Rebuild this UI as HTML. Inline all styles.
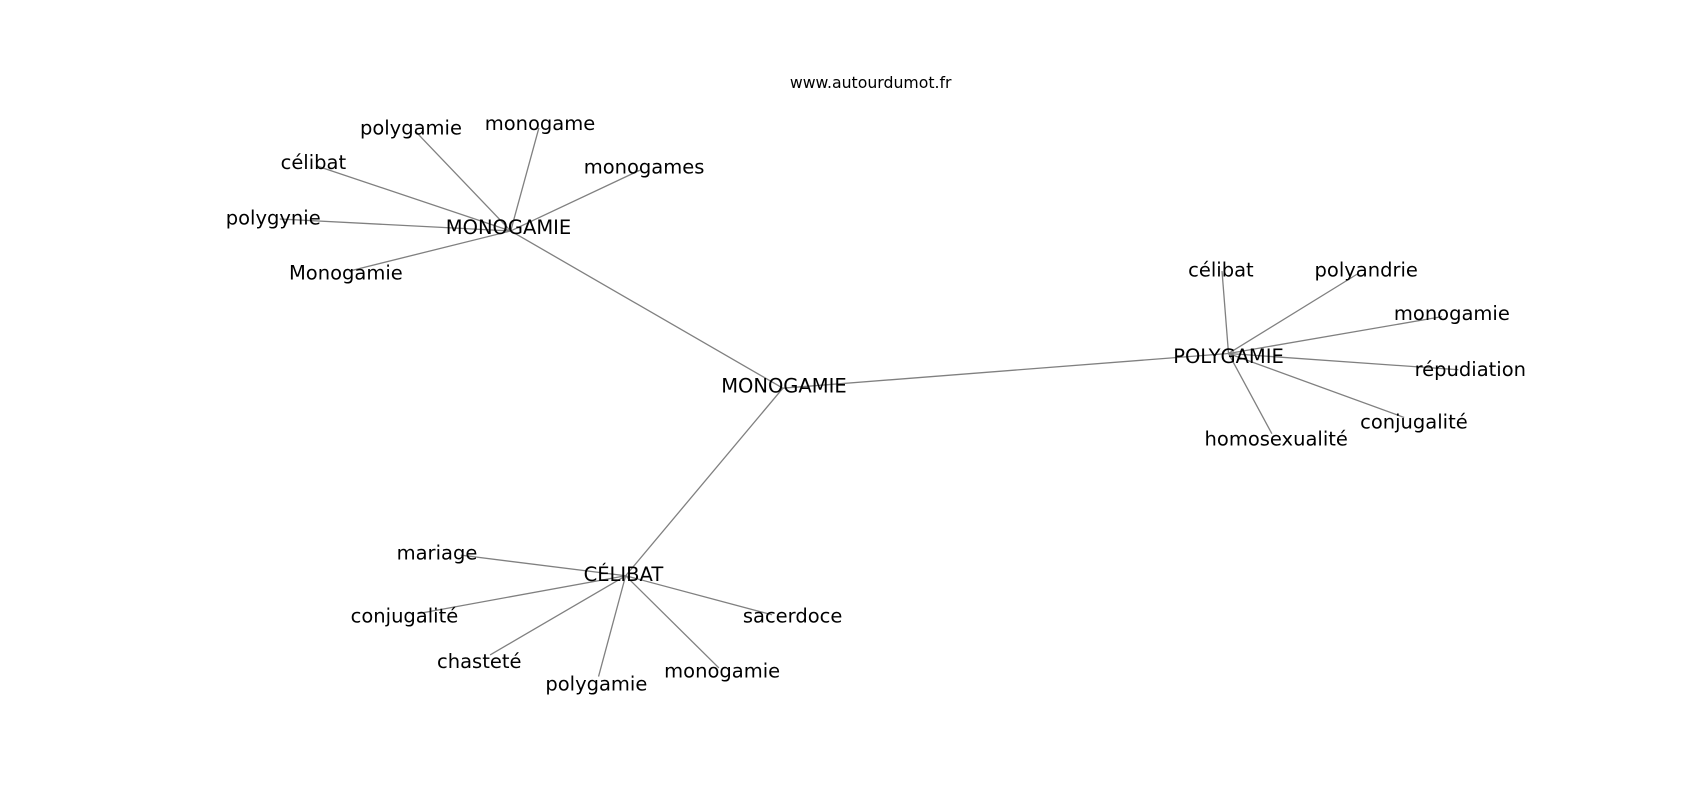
<!DOCTYPE html>
<html><head><meta charset="utf-8"><style>
html,body{margin:0;padding:0;background:#fff;}
svg{display:block;}
text{font-family:"DejaVu Sans","Liberation Sans",sans-serif;fill:#000;}
</style></head><body>
<svg width="1700" height="800" viewBox="0 0 1700 800" xmlns="http://www.w3.org/2000/svg">
<g transform="scale(1.0843)">
<g stroke="#808080" stroke-width="1.2" fill="none">
<line x1="722" y1="358" x2="471" y2="213"/>
<line x1="722" y1="358" x2="1133" y2="326"/>
<line x1="722" y1="358" x2="577" y2="531"/>
<line x1="471" y1="213" x2="383" y2="121"/>
<line x1="471" y1="213" x2="497" y2="118"/>
<line x1="471" y1="213" x2="590" y2="157"/>
<line x1="471" y1="213" x2="292" y2="153"/>
<line x1="471" y1="213" x2="258" y2="202"/>
<line x1="471" y1="213" x2="322" y2="250"/>
<line x1="1133" y1="326" x2="1127" y2="250"/>
<line x1="1133" y1="326" x2="1253" y2="252"/>
<line x1="1133" y1="326" x2="1330" y2="292"/>
<line x1="1133" y1="326" x2="1345" y2="341"/>
<line x1="1133" y1="326" x2="1295" y2="385"/>
<line x1="1133" y1="326" x2="1173" y2="400"/>
<line x1="577" y1="531" x2="425" y2="512"/>
<line x1="577" y1="531" x2="385" y2="566"/>
<line x1="577" y1="531" x2="452" y2="604"/>
<line x1="577" y1="531" x2="552" y2="624"/>
<line x1="577" y1="531" x2="663" y2="616"/>
<line x1="577" y1="531" x2="712" y2="567"/>
</g>
<g font-size="18" text-anchor="middle" dominant-baseline="central">
<text x="803" y="76" font-size="14.5">www.autourdumot.fr</text>
<text x="723" y="356">MONOGAMIE</text>
<text x="469" y="210">MONOGAMIE</text>
<text x="379" y="118">polygamie</text>
<text x="498" y="114">monogame</text>
<text x="594" y="154">monogames</text>
<text x="289" y="150">célibat</text>
<text x="252" y="201">polygynie</text>
<text x="319" y="252">Monogamie</text>
<text x="1133" y="329">POLYGAMIE</text>
<text x="1126" y="249">célibat</text>
<text x="1260" y="249">polyandrie</text>
<text x="1339" y="289">monogamie</text>
<text x="1356" y="341">répudiation</text>
<text x="1304" y="389">conjugalité</text>
<text x="1177" y="405">homosexualité</text>
<text x="575" y="530">CÉLIBAT</text>
<text x="403" y="510">mariage</text>
<text x="373" y="568">conjugalité</text>
<text x="442" y="610">chasteté</text>
<text x="550" y="631">polygamie</text>
<text x="666" y="619">monogamie</text>
<text x="731" y="568">sacerdoce</text>
</g>
</g>
</svg>
</body></html>
